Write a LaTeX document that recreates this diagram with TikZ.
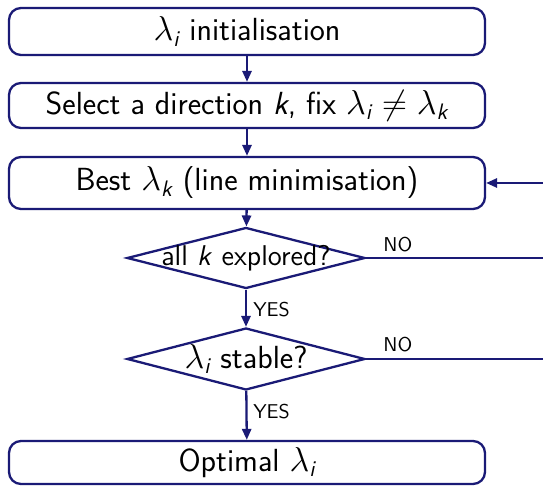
\documentclass[tikz,border=0pt]{standalone}
\usepackage{amsmath}
\usepackage{fontspec}
\usetikzlibrary{shapes.geometric,arrows.meta}
\definecolor{navy}{RGB}{26,26,118}
\newcommand{\li}{$\lambda_{\textit{\sffamily i}}$}
\newcommand{\lk}{$\lambda_{\textit{\sffamily k}}$}
\tikzset{
  stepbox/.style={draw=navy, line width=1.15pt, rounded corners=6pt, minimum width=238pt, inner sep=0pt,
    font=\sffamily\fontsize{16}{19}\selectfont, fill=white},
  question/.style={draw=navy, line width=1.15pt, diamond, inner sep=0pt, minimum width=119pt, minimum height=30.5pt, fill=white},
  qtext/.style={inner sep=0pt, font=\sffamily\fontsize{16}{19}\selectfont},
  flow/.style={draw=navy, line width=1.15pt, -{Triangle[length=5.5pt,width=4.6pt]}},
  plain/.style={draw=navy, line width=1.15pt},
  lbl/.style={font=\sffamily\fontsize{10}{12}\selectfont, inner sep=0pt},
}
\begin{document}
\begin{tikzpicture}[x=0.5pt,y=-0.5pt]
\useasboundingbox (0,0) rectangle (543,486);
\clip (0,0) rectangle (543,486);
\fill[white] (0,0) rectangle (543,486);
\node[stepbox, minimum height=23.5pt] (init) at (247,31.5) {\li{} initialisation};
\node[stepbox, minimum height=22.5pt] (select) at (247,105.5) {Select a direction \textit{k}, fix \li{} $\neq$ \lk};
\node[stepbox, minimum height=26pt] (best) at (247,183) {Best \lk{} (line minimisation)};
\node[question] (q1) at (246,258) {};
\node[qtext, font=\sffamily\fontsize{14.3}{17}\selectfont] (q1t) at (246,258) {all \textit{k} explored?};
\node[question, minimum height=31pt] (q2) at (246,359) {};
\node[qtext] (q2t) at (246,359) {\li{} stable?};
\node[stepbox, minimum height=21.5pt] (opt) at (247,462.5) {Optimal \li};
\draw[flow] (init) -- (select);
\draw[flow] (select) -- (best);
\draw[flow] (best) -- (q1);
\draw[flow] (q1) -- (q2);
\draw[flow] (q2) -- (opt);
\node[lbl, anchor=west] (yes1) at (253,310) {YES};
\node[lbl, anchor=west] (yes2) at (253,412) {YES};
\coordinate (r0) at (600,183);
\coordinate (r1) at (600,258);
\coordinate (r2) at (543.7,359);
\coordinate (r3) at (543.7,333);
\draw[flow] (r0 |- best.east) -- (best.east);
\draw[plain] (q1.east) -- (r1 |- q1.east);
\draw[plain] (q2.east) -- (r2 |- q2.east) -- (r3);
\node[lbl, anchor=west] (no1) at (383,245) {NO};
\node[lbl, anchor=west] (no2) at (383,345) {NO};
\end{tikzpicture}
\end{document}
